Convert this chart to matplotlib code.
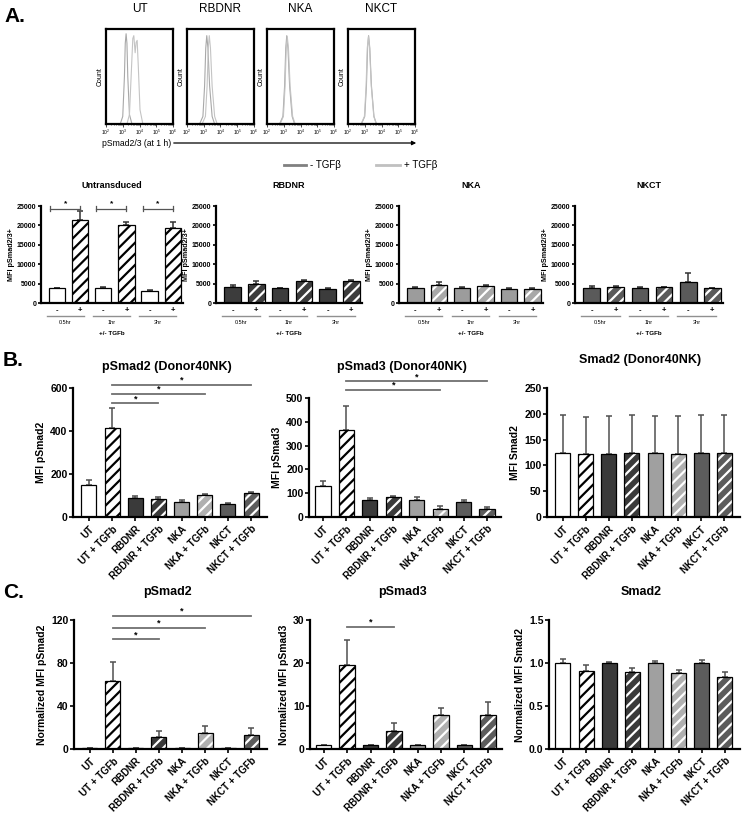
import numpy as np
import matplotlib
matplotlib.use('Agg')
import matplotlib.pyplot as plt
import matplotlib.transforms as mtransforms
from matplotlib.lines import Line2D
from matplotlib.patches import FancyArrowPatch

plt.rcParams['font.family'] = ['Liberation Sans', 'DejaVu Sans']
plt.rcParams['hatch.linewidth'] = 1.6

W, H = 745, 815

# ---- panel A: flow histograms (log10 intensity, relative count) ----
hist_titles = ['UT', 'RBDNR', 'NKA', 'NKCT']
ut_minus_x = [2.85, 3.0, 3.1, 3.15, 3.2, 3.25, 3.3, 3.4, 3.55]
ut_minus_y = [0.0, 0.08, 0.5, 0.85, 0.95, 0.85, 0.5, 0.1, 0.0]
ut_plus_x = [3.25, 3.4, 3.5, 3.6, 3.66, 3.74, 3.8, 3.86, 3.93, 4.03, 4.2]
ut_plus_y = [0.0, 0.1, 0.5, 0.9, 0.93, 0.75, 0.86, 0.88, 0.6, 0.15, 0.0]
rbdnr_minus_x = [2.75, 2.95, 3.05, 3.12, 3.18, 3.25, 3.35, 3.5, 3.65]
rbdnr_minus_y = [0.0, 0.08, 0.4, 0.8, 0.93, 0.8, 0.4, 0.08, 0.0]
rbdnr_plus_x = [2.9, 3.1, 3.2, 3.27, 3.33, 3.4, 3.5, 3.65, 3.8]
rbdnr_plus_y = [0.0, 0.08, 0.4, 0.8, 0.93, 0.8, 0.4, 0.08, 0.0]
nka_minus_x = [2.75, 2.95, 3.05, 3.12, 3.18, 3.25, 3.35, 3.5, 3.65]
nka_minus_y = [0.0, 0.08, 0.4, 0.8, 0.93, 0.8, 0.4, 0.08, 0.0]
nka_plus_x = [2.78, 2.98, 3.08, 3.15, 3.21, 3.28, 3.38, 3.53, 3.68]
nka_plus_y = [0.0, 0.08, 0.4, 0.8, 0.92, 0.8, 0.4, 0.08, 0.0]
nkct_minus_x = [2.8, 3.0, 3.1, 3.17, 3.23, 3.3, 3.4, 3.55, 3.7]
nkct_minus_y = [0.0, 0.08, 0.4, 0.8, 0.93, 0.8, 0.4, 0.08, 0.0]
nkct_plus_x = [2.78, 2.98, 3.08, 3.15, 3.22, 3.29, 3.39, 3.54, 3.69]
nkct_plus_y = [0.0, 0.08, 0.4, 0.8, 0.92, 0.8, 0.4, 0.08, 0.0]

# ---- panel A: time course bars (-/+ TGFb at 0.5, 1, 3 hr) ----
a_titles = ['Untransduced', 'RBDNR', 'NKA', 'NKCT']
a_times = ['0.5hr', '1hr', '3hr']
a_signs = ['-', '+', '-', '+', '-', '+']
untr_mean = [3800, 21500, 3950, 20000, 3200, 19300]
untr_err = [150, 2100, 100, 900, 200, 1500]
rbdnr_mean = [4000, 5000, 3850, 5600, 3550, 5750]
rbdnr_err = [600, 700, 100, 250, 200, 150]
nka_mean = [3950, 4650, 3900, 4350, 3700, 3700]
nka_err = [100, 650, 100, 350, 100, 60]
nkct_mean = [3800, 4050, 3900, 4100, 5500, 3750]
nkct_err = [700, 450, 100, 150, 2300, 80]

# ---- panels B and C ----
bc_labels = ['UT', 'UT + TGFb', 'RBDNR', 'RBDNR + TGFb', 'NKA', 'NKA + TGFb',
             'NKCT', 'NKCT + TGFb']
psmad2_mean = [150, 415, 88, 82, 68, 103, 62, 110]
psmad2_err = [22, 90, 10, 9, 10, 5, 2, 4]
psmad3_mean = [130, 365, 72, 82, 72, 35, 63, 35]
psmad3_err = [22, 103, 6, 6, 13, 10, 9, 5]
smad2_mean = [125, 122, 123, 124, 124, 122, 125, 124]
smad2_err = [73, 71, 73, 73, 72, 73, 73, 73]
norm_psmad2_mean = [1, 63, 1, 11, 1, 15, 1, 13]
norm_psmad2_err = [0, 18, 0, 6, 0, 6, 0, 7]
norm_psmad3_mean = [1, 19.5, 1, 4.3, 1, 8.0, 1, 8.0]
norm_psmad3_err = [0, 5.8, 0, 1.7, 0, 1.5, 0, 3.0]
norm_smad2_mean = [1.0, 0.91, 1.0, 0.9, 1.0, 0.88, 1.0, 0.84]
norm_smad2_err = [0.05, 0.07, 0.01, 0.04, 0.02, 0.04, 0.035, 0.05]

fig = plt.figure(figsize=(W / 100, H / 100), dpi=100)


def add_ax(x0, y0, x1, y1):
    return fig.add_axes([x0 / W, 1 - y1 / H, (x1 - x0) / W, (y1 - y0) / H])


def ftext(x, y, s, **kw):
    fig.text(x / W, 1 - y / H, s, **kw)


def fline(x0, x1, y, **kw):
    fig.add_artist(Line2D([x0 / W, x1 / W], [1 - y / H, 1 - y / H],
                          transform=fig.transFigure, **kw))


def style_axes(ax):
    for s in ['top', 'right']:
        ax.spines[s].set_visible(False)
    for s in ['left', 'bottom']:
        ax.spines[s].set_linewidth(1.6)
    ax.tick_params(width=1.2, length=3, direction='out')


def draw_bars(ax, means, errs, faces, hatched, width, ecolor='#505050', cap=2.5):
    x = np.arange(len(means))
    for i in range(len(means)):
        hcol = 'black' if faces[i] == 'white' else 'white'
        ax.bar(x[i], means[i], width, color=faces[i], edgecolor=hcol,
               hatch='///' if hatched[i] else None, linewidth=0, zorder=2)
        ax.bar(x[i], means[i], width, fill=False, edgecolor='black',
               linewidth=0.9, zorder=3)
    ax.errorbar(x, means, yerr=[np.zeros(len(means)), errs], fmt='none',
                ecolor=ecolor, elinewidth=1.1, capsize=cap, capthick=1.1,
                zorder=1)
    return x


# ================= Panel A =================
ftext(4, 17, 'A.', fontsize=15, fontweight='bold', va='center')

hist_curves = [
    (ut_minus_x, ut_minus_y, ut_plus_x, ut_plus_y),
    (rbdnr_minus_x, rbdnr_minus_y, rbdnr_plus_x, rbdnr_plus_y),
    (nka_minus_x, nka_minus_y, nka_plus_x, nka_plus_y),
    (nkct_minus_x, nkct_minus_y, nkct_plus_x, nkct_plus_y),
]
hist_left = [106, 187, 267, 348]
for k, left in enumerate(hist_left):
    ax = add_ax(left, 29, left + 67, 124)
    mx, my, px, py = hist_curves[k]
    ax.plot(10 ** np.array(mx), my, color='#a8a8a8', lw=0.8)
    ax.plot(10 ** np.array(px), py, color='#c4c4c4', lw=0.8)
    ax.set_xscale('log')
    ax.set_xlim(1e2, 1e6)
    ax.set_ylim(0, 1.0)
    ax.set_yticks([])
    ax.set_xticks([1e2, 1e3, 1e4, 1e5, 1e6])
    ax.tick_params(axis='x', which='major', labelsize=3.5, length=2, pad=1,
                   width=0.5)
    ax.tick_params(axis='x', which='minor', length=1, width=0.4)
    for s in ax.spines.values():
        s.set_linewidth(1.6)
    ax.set_ylabel('Count', fontsize=5, labelpad=2)
    ax.set_title(hist_titles[k], fontsize=8.5, pad=12)

ftext(102, 143, 'pSmad2/3 (at 1 h)', fontsize=6.2, va='center')
fig.add_artist(FancyArrowPatch((171 / W, 1 - 143 / H), (419 / W, 1 - 143 / H),
                               transform=fig.transFigure, arrowstyle='-|>',
                               mutation_scale=6, lw=0.9, color='black'))

fline(284, 306, 165, color='#808080', lw=2)
ftext(310, 165, '- TGFβ', fontsize=7, va='center')
fline(376, 400, 165, color='#c0c0c0', lw=2)
ftext(404, 165, '+ TGFβ', fontsize=7, va='center')

a_data = [(untr_mean, untr_err), (rbdnr_mean, rbdnr_err),
          (nka_mean, nka_err), (nkct_mean, nkct_err)]
a_faces = [['white'] * 6, ['#3c3c3c'] * 6,
           ['#9c9c9c', '#a8a8a8'] * 3, ['#5a5a5a'] * 6]
a_boxes = [(41, 183), (216, 362), (399, 543), (575, 723)]
for k, (x0, x1) in enumerate(a_boxes):
    ax = add_ax(x0, 206, x1, 303)
    style_axes(ax)
    means, errs = a_data[k]
    x = draw_bars(ax, means, errs, a_faces[k], [False, True] * 3, 0.7,
                  ecolor='#333333', cap=2)
    ax.set_xlim(-0.7, 5.45)
    ax.set_ylim(0, 25000)
    ax.set_yticks([0, 5000, 10000, 15000, 20000, 25000])
    ax.tick_params(axis='y', labelsize=5, length=2.5, pad=1)
    for t in ax.get_yticklabels():
        t.set_fontweight('bold')
    ax.set_xticks([])
    ax.set_ylabel('MFI pSmad2/3+', fontsize=5.2, fontweight='bold', labelpad=1)
    ax.set_title(a_titles[k], fontsize=6.5, fontweight='bold', pad=13)
    tr = mtransforms.blended_transform_factory(ax.transData, ax.transAxes)
    for i, s in enumerate(a_signs):
        ax.text(x[i], -0.075, s, transform=tr, ha='center', va='center',
                fontsize=5.5, fontweight='bold')
    for g in range(3):
        ax.add_line(Line2D([2 * g - 0.45, 2 * g + 1.15], [-0.135, -0.135],
                           transform=tr, color='#909090', lw=1,
                           clip_on=False))
        ax.text(2 * g + 0.35, -0.2, a_times[g], transform=tr, ha='center',
                va='center', fontsize=4)
    ax.text(0.5, -0.31, '+/- TGFb', transform=ax.transAxes, ha='center',
            va='center', fontsize=4.5, fontweight='bold')
    if k == 0:
        for g in range(3):
            xa, xb, yb = 2 * g - 0.3, 2 * g + 1, 24300
            ax.plot([xa, xb], [yb, yb], color='#555555', lw=0.9,
                    clip_on=False)
            for xe in (xa, xb):
                ax.plot([xe, xe], [yb - 600, yb + 600], color='#555555',
                        lw=0.9, clip_on=False)
            ax.text((xa + xb) / 2, yb + 300, '*', ha='center', va='bottom',
                    fontsize=6, fontweight='bold')

# ================= Panels B and C =================
bc_faces = ['white', 'white', '#3a3a3a', '#3a3a3a', '#a0a0a0', '#b0b0b0',
            '#5c5c5c', '#5c5c5c']
bc_hatched = [False, True] * 4


def bc_panel(box, means, errs, ylim, yticks, ylabel, title, title_y, xlim,
             sig=None, yfmt=None):
    x0, y0, x1, y1 = box
    ax = add_ax(x0, y0, x1, y1)
    style_axes(ax)
    x = draw_bars(ax, means, errs, bc_faces, bc_hatched, 0.65)
    ax.set_xlim(*xlim)
    ax.set_ylim(*ylim)
    ax.set_yticks(yticks)
    if yfmt:
        ax.set_yticklabels([yfmt.format(v) for v in yticks])
    ax.set_xticks(x)
    ax.set_xticklabels(bc_labels, rotation=45, ha='right',
                       rotation_mode='anchor')
    ax.tick_params(axis='y', labelsize=7.5, pad=1)
    ax.tick_params(axis='x', labelsize=7, pad=2)
    for t in ax.get_yticklabels() + ax.get_xticklabels():
        t.set_fontweight('bold')
    ax.set_ylabel(ylabel, fontsize=7.5, fontweight='bold', labelpad=3)
    ftext((x0 + x1) / 2 - 3, title_y, title, fontsize=9, fontweight='bold',
          ha='center', va='center')
    if sig:
        for (xa, xb, yv) in sig:
            ax.plot([xa, xb], [yv, yv], color='#707070', lw=1.3,
                    clip_on=False)
            ax.text((xa + xb) / 2, yv, '*', ha='center', va='bottom',
                    fontsize=6.5, fontweight='bold')
    return ax


ftext(3, 361, 'B.', fontsize=15, fontweight='bold', va='center')
bc_panel((73, 388, 267, 517), psmad2_mean, psmad2_err, (0, 600),
         [0, 200, 400, 600], 'MFI pSmad2', 'pSmad2 (Donor40NK)', 367,
         (-0.69, 7.69), sig=[(1, 3, 530), (1, 5, 572), (1, 7, 614)])
bc_panel((309, 398, 501, 517), psmad3_mean, psmad3_err, (0, 500),
         [0, 100, 200, 300, 400, 500], 'MFI pSmad3', 'pSmad3 (Donor40NK)', 367,
         (-0.6, 7.6), sig=[(1, 5, 534), (1, 7, 571)])
bc_panel((547, 388, 740, 517), smad2_mean, smad2_err, (0, 250),
         [0, 50, 100, 150, 200, 250], 'MFI Smad2', 'Smad2 (Donor40NK)', 360,
         (-0.68, 7.68))

ftext(3, 593, 'C.', fontsize=15, fontweight='bold', va='center')
bc_panel((74, 620, 267, 749), norm_psmad2_mean, norm_psmad2_err, (0, 120),
         [0, 40, 80, 120], 'Normalized MFI pSmad2', 'pSmad2', 592,
         (-0.69, 7.69), sig=[(1, 3, 102), (1, 5, 113), (1, 7, 124)])
bc_panel((310, 620, 502, 749), norm_psmad3_mean, norm_psmad3_err, (0, 30),
         [0, 10, 20, 30], 'Normalized MFI pSmad3', 'pSmad3', 592,
         (-0.58, 7.6), sig=[(1, 3, 28.4)])
bc_panel((549, 620, 740, 749), norm_smad2_mean, norm_smad2_err, (0, 1.5),
         [0, 0.5, 1.0, 1.5], 'Normalized MFI Smad2', 'Smad2', 592,
         (-0.6, 7.65), yfmt='{:.1f}')

fig.savefig('out.png', dpi=100)
